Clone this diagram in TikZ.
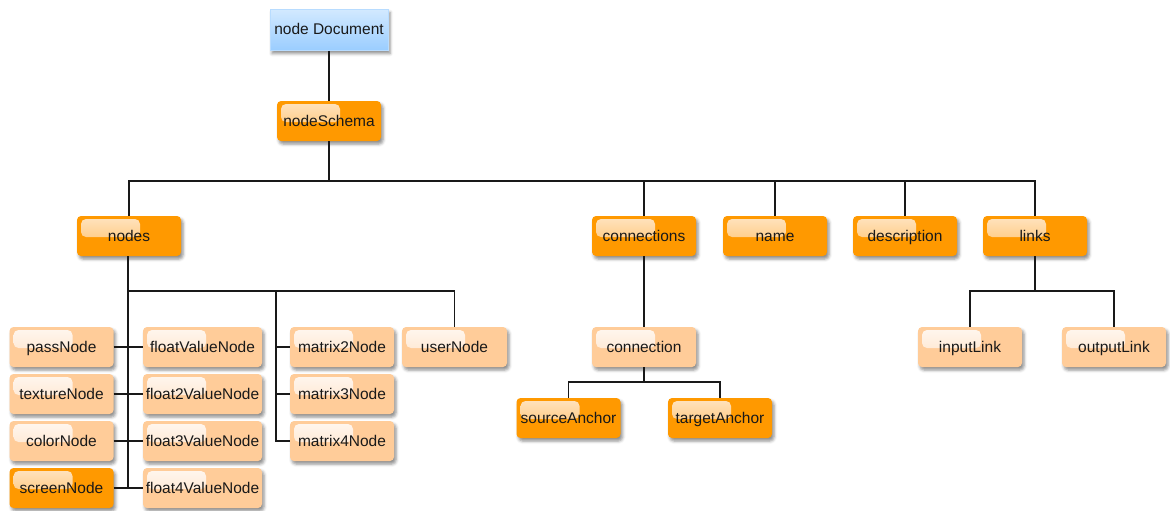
\documentclass[tikz,border=0pt]{standalone}
\usepackage{fontspec}
\setmainfont{Liberation Sans}
\usetikzlibrary{shadows.blur}
\definecolor{darkor}{HTML}{FF9900}
\definecolor{darkhi}{HTML}{FFE4C2}
\definecolor{darklo}{HTML}{FFBC5E}
\definecolor{lightor}{HTML}{FFCC99}
\definecolor{lighthi}{HTML}{FFF7F0}
\definecolor{lightlo}{HTML}{FFE0C2}
\definecolor{bluetop}{HTML}{D2E9FF}
\definecolor{bluebot}{HTML}{9ACDFF}
\tikzset{
  box/.style={rounded corners=4pt, minimum height=40pt, minimum width=104pt,
    inner sep=0pt, text height=12.5pt, text depth=2.5pt, text=black!90,
    font=\fontsize{15.5}{18}\selectfont,
    blur shadow={shadow xshift=2pt, shadow yshift=-3pt, shadow blur radius=3pt, shadow opacity=45}},
  gloss/.style 2 args={path picture={
    \path[rounded corners=5pt, top color=#1, bottom color=#2]
      ([xshift=4pt,yshift=-3pt]path picture bounding box.north west)
      rectangle ([xshift=63pt,yshift=-21pt]path picture bounding box.north west);}},
  darkbox/.style={box, fill=darkor, gloss={darkhi}{darklo}},
  lightbox/.style={box, fill=lightor, gloss={lighthi}{lightlo}},
  rootbox/.style={box, rounded corners=0pt, minimum width=118pt, minimum height=41pt,
    top color=bluetop, bottom color=bluebot, draw=bluebot!70!white, line width=0.6pt},
  wide/.style={minimum width=119pt},
  link/.style={draw=black!90, line width=1.4pt}
}
\begin{document}
\begin{tikzpicture}[x=1pt, y=-1pt]
\useasboundingbox (0,0) rectangle (1170,511);

% root and schema
\node[rootbox] (doc) at (329,30) {node Document};
\node[darkbox] (schema) at (329,121) {nodeSchema};

% second level
\node[darkbox] (nodes) at (129,236) {nodes};
\node[darkbox] (conns) at (644,236) {connections};
\node[darkbox] (name) at (775,236) {name};
\node[darkbox] (desc) at (905,236) {description};
\node[darkbox] (links) at (1035,236) {links};

% node kinds
\node[lightbox] (pass) at (61.5,347) {passNode};
\node[lightbox] (tex) at (61.5,394) {textureNode};
\node[lightbox] (col) at (61.5,441) {colorNode};
\node[darkbox] (scr) at (61.5,488) {screenNode};
\node[lightbox, wide] (fv1) at (202.5,347) {floatValueNode};
\node[lightbox, wide] (fv2) at (202.5,394) {float2ValueNode};
\node[lightbox, wide] (fv3) at (202.5,441) {float3ValueNode};
\node[lightbox, wide] (fv4) at (202.5,488) {float4ValueNode};
\node[lightbox] (m2) at (342,347) {matrix2Node};
\node[lightbox] (m3) at (342,394) {matrix3Node};
\node[lightbox] (m4) at (342,441) {matrix4Node};
\node[lightbox, minimum width=105pt] (user) at (454.5,347) {userNode};

% connections subtree
\node[lightbox] (conn) at (644,347) {connection};
\node[darkbox] (src) at (568.5,418) {sourceAnchor};
\node[darkbox] (tgt) at (720,418) {targetAnchor};

% links subtree
\node[lightbox] (inl) at (970,347) {inputLink};
\node[lightbox] (outl) at (1114,347) {outputLink};

% junction points
\coordinate (topbus) at (329,181);
\coordinate (nbus) at (128,291);
\coordinate (mbus) at (276,291);
\coordinate (cbus) at (644,382);
\coordinate (lbus) at (1035,291);

% connectors
\begin{scope}[link]
\draw (doc.south) -- (schema.north);
\draw (schema.south) -- (topbus);
\draw (nodes.north) |- (topbus) -| (links.north);
\draw (conns.north) -- (conns.north |- topbus);
\draw (name.north) -- (name.north |- topbus);
\draw (desc.north) -- (desc.north |- topbus);

\draw (nodes.south -| nbus) -- (nbus |- scr.east);
\draw (nbus) -| (user.north);
\draw (pass.east) -- (fv1.west);
\draw (tex.east) -- (fv2.west);
\draw (col.east) -- (fv3.west);
\draw (scr.east) -- (fv4.west);
\draw (mbus) |- (m4.west);
\draw (mbus |- m2.west) -- (m2.west);
\draw (mbus |- m3.west) -- (m3.west);

\draw (conns.south) -- (conn.north);
\draw (conn.south) -- (cbus);
\draw (src.north) |- (cbus) -| (tgt.north);

\draw (links.south) -- (lbus);
\draw (inl.north) |- (lbus) -| (outl.north);
\end{scope}
\end{tikzpicture}
\end{document}
